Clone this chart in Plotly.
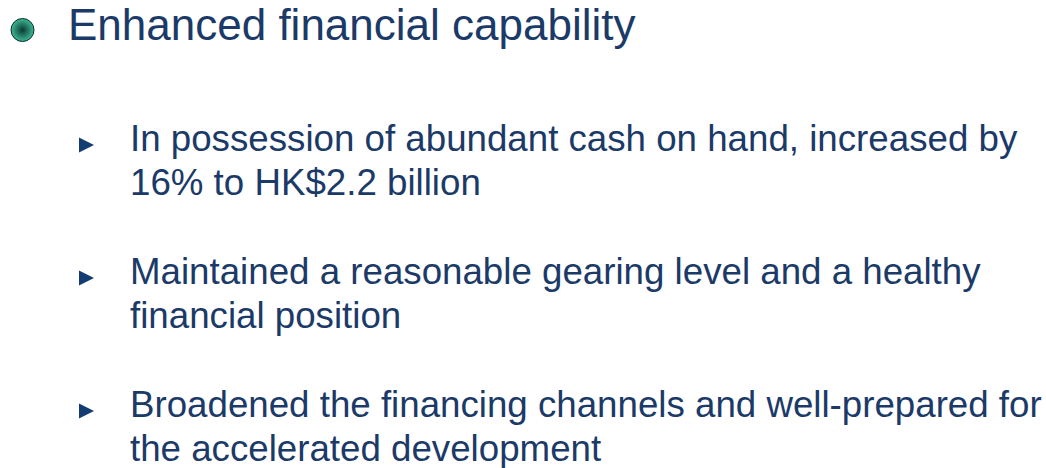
import plotly.graph_objects as go

title_text = "Enhanced financial capability"
bullet_lines = [
    ["In possession of abundant cash on hand, increased by", "16% to HK$2.2 billion"],
    ["Maintained a reasonable gearing level and a healthy", "financial position"],
    ["Broadened the financing channels and well-prepared for", "the accelerated development"],
]
bullet_y = [138.5, 271.5, 404.5]
line_gap = 44

W, H = 1046, 468
navy = "#1b3a68"
font = "Liberation Sans, Arial, sans-serif"

fig = go.Figure()

# globe bullet
fig.add_trace(go.Scatter(x=[22.5], y=[30], mode="markers",
                         marker=dict(symbol="circle", size=23, color="#3fb894",
                                     gradient=dict(type="radial", color="#0a3a33"),
                                     line=dict(color="#0a2f2c", width=1)),
                         hoverinfo="skip", showlegend=False))
# triangle bullets (arrow-right: tip sits at the marker point)
fig.add_trace(go.Scatter(x=[94] * len(bullet_y), y=[y + 6.5 for y in bullet_y], mode="markers",
                         marker=dict(symbol="arrow-right", size=15, color="#133c73"),
                         hoverinfo="skip", showlegend=False))

fig.add_annotation(x=66, y=24, text=title_text, showarrow=False, xanchor="left", yanchor="middle",
                   font=dict(family=font, size=44, color=navy))
for y0, lines in zip(bullet_y, bullet_lines):
    for i, t in enumerate(lines):
        fig.add_annotation(x=128, y=y0 + i * line_gap, text=t, showarrow=False,
                           xanchor="left", yanchor="middle",
                           font=dict(family=font, size=36.7, color=navy))

fig.update_layout(width=W, height=H, margin=dict(l=0, r=0, t=0, b=0),
                  paper_bgcolor="white", plot_bgcolor="white",
                  xaxis=dict(range=[0, W], visible=False, fixedrange=True),
                  yaxis=dict(range=[H, 0], visible=False, fixedrange=True))
fig.write_html("out.html", post_script="document.body.style.margin='0';document.body.style.overflow='hidden';",
               config={"displayModeBar": False})
